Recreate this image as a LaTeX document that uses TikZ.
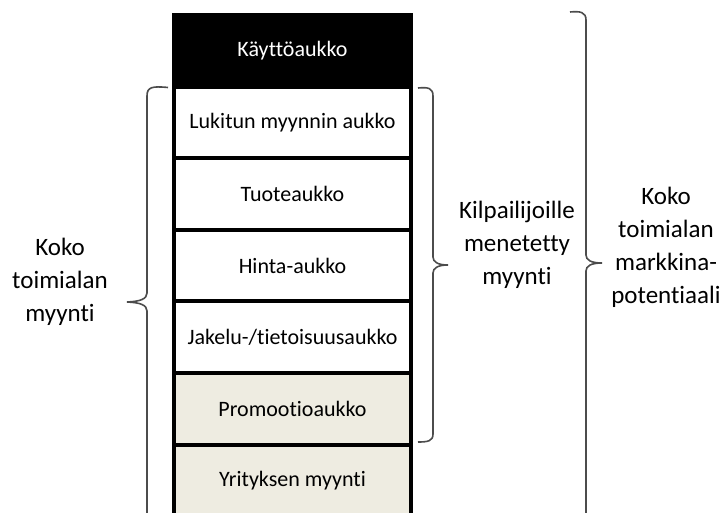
\documentclass[tikz,border=0pt]{standalone}
\usepackage{fontspec}
\setmainfont[Ligatures=NoCommon]{Carlito}
\usepackage{tikz}
\definecolor{beige}{RGB}{238,236,225}

\begin{document}
\begin{tikzpicture}[x=1pt,y=-1pt,node distance=71.6pt,aukko/.style={rectangle,draw=black,line width=4pt,fill=white,outer sep=0pt,minimum width=237pt,minimum height=71.6pt,font=\fontsize{22}{26}\selectfont},musta/.style={aukko,fill=black,text=white},harmaa/.style={aukko,fill=beige},sulku/.style={draw=black!70,line width=1.6pt},teksti/.style={align=center,font=\fontsize{25}{33}\selectfont}]
		\useasboundingbox (0,0) rectangle (722,513);

		\node[musta] (kaytto) at (292.5,50.8) {Käyttöaukko};
		\node[aukko] (lukitun) [below of=kaytto] {Lukitun myynnin aukko};
		\node[aukko] (tuote) [below of=lukitun] {Tuoteaukko};
		\node[aukko] (hinta) [below of=tuote] {Hinta-aukko};
		\node[aukko] (jakelu) [below of=hinta] {Jakelu-/tietoisuusaukko};
		\node[harmaa] (promootio) [below of=jakelu] {Promootioaukko};
		\node[harmaa] (yritys) [below of=promootio] {Yrityksen myynti};

		\node[teksti] (kokomyynti) at (60,282) {Koko\\toimialan\\myynti};
		\node[teksti] (menetetty) at (517,245) {Kilpailijoille\\menetetty\\myynti};
		\node[teksti] (potentiaali) at (666,247) {Koko\\toimialan\\markkina-\\potentiaali};

		% aaltosulut
		\draw[sulku] (168,87.5) .. controls (152,86) and (147,87) .. (147,96) -- (147,293) .. controls (147,299) and (140,301.5) .. (127,302) .. controls (140,302.5) and (147,305) .. (147,311) -- (147,520);
		\draw[sulku] (418,88) .. controls (428,87) and (433,88) .. (433,96) -- (433,257) .. controls (433,262) and (438,265) .. (448,265) .. controls (438,265) and (433,268) .. (433,273) -- (433,434) .. controls (433,441) and (428,442) .. (418,442);
		\draw[sulku] (570,12) .. controls (580,11) and (586,12) .. (586,20) -- (586,255) .. controls (586,260) and (591,263) .. (602,263) .. controls (591,263) and (586,266) .. (586,271) -- (586,520);

		\end{tikzpicture}
\end{document}
